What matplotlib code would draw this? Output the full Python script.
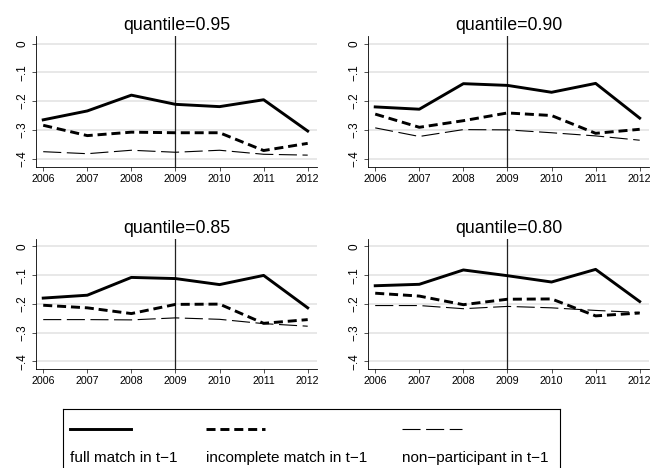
import matplotlib
matplotlib.use("Agg")
import matplotlib.pyplot as plt

plt.rcParams['font.family'] = ['Liberation Sans', 'DejaVu Sans']
plt.rcParams['lines.scale_dashes'] = False

years = [2006, 2007, 2008, 2009, 2010, 2011, 2012]
quantiles = ["0.95", "0.90", "0.85", "0.80"]

full_95 = [-0.265, -0.234, -0.179, -0.211, -0.219, -0.195, -0.304]
incomplete_95 = [-0.284, -0.320, -0.308, -0.310, -0.310, -0.372, -0.347]
nonpart_95 = [-0.376, -0.383, -0.371, -0.378, -0.371, -0.385, -0.388]

full_90 = [-0.220, -0.228, -0.139, -0.145, -0.169, -0.138, -0.259]
incomplete_90 = [-0.245, -0.291, -0.268, -0.241, -0.250, -0.312, -0.298]
nonpart_90 = [-0.293, -0.323, -0.299, -0.300, -0.310, -0.321, -0.336]

full_85 = [-0.180, -0.170, -0.108, -0.112, -0.133, -0.101, -0.214]
incomplete_85 = [-0.205, -0.214, -0.234, -0.202, -0.201, -0.268, -0.255]
nonpart_85 = [-0.255, -0.255, -0.256, -0.249, -0.254, -0.269, -0.278]

full_80 = [-0.137, -0.132, -0.082, -0.102, -0.124, -0.080, -0.192]
incomplete_80 = [-0.163, -0.173, -0.203, -0.184, -0.183, -0.242, -0.232]
nonpart_80 = [-0.206, -0.206, -0.217, -0.209, -0.214, -0.223, -0.230]

yticks = [0, -0.1, -0.2, -0.3, -0.4]
ytick_labels = ["0", "\u2212.1", "\u2212.2", "\u2212.3", "\u2212.4"]
legend_labels = ["full match in t\u22121", "incomplete match in t\u22121",
                 "non\u2212participant in t\u22121"]

panels = [
    (full_95, incomplete_95, nonpart_95),
    (full_90, incomplete_90, nonpart_90),
    (full_85, incomplete_85, nonpart_85),
    (full_80, incomplete_80, nonpart_80),
]

# line styles for the three groups
styles = [
    dict(lw=2.1, ls='-'),
    dict(lw=2.1, ls=(0, (6.5, 3.5))),
    dict(lw=0.8, ls=(0, (13, 4))),
]

fig = plt.figure(figsize=(6.52, 4.68), dpi=100)

lefts = [0.0548, 0.564, 0.0548, 0.564]
bottoms = [0.644, 0.644, 0.211, 0.211]
w, h = 0.432, 0.279

for i, (q, series) in enumerate(zip(quantiles, panels)):
    ax = fig.add_axes([lefts[i], bottoms[i], w, h])
    for y in yticks:
        ax.axhline(y, color='#e4e4e4', lw=1.2, zorder=0)
    ax.axvline(2009, color='#222222', lw=0.9, zorder=1)
    for vals, st in zip(series, styles):
        ax.plot(years, vals, color='black', lw=st['lw'], linestyle=st['ls'],
                zorder=3)
    ax.set_xlim(2005.83, 2012.22)
    ax.set_ylim(-0.428, 0.027)
    ax.set_xticks(years)
    ax.set_xticklabels([str(y) for y in years], fontsize=7.7)
    ax.set_yticks(yticks)
    ax.set_yticklabels(ytick_labels, fontsize=8.5, rotation=90, va='center')
    ax.tick_params(length=3, width=0.6, pad=2, color='#333333')
    ax.spines['top'].set_visible(False)
    ax.spines['right'].set_visible(False)
    ax.spines['left'].set_linewidth(0.6)
    ax.spines['bottom'].set_linewidth(0.6)
    ax.set_title("quantile=" + q, fontsize=12.8, pad=4)

# legend box: samples above labels
lax = fig.add_axes([63.3 / 652, -0.02, (560 - 63.3) / 652, (468 - 409) / 468 + 0.02])
lax.set_xlim(0, 1)
lax.set_ylim(0, 1)
lax.set_xticks([])
lax.set_yticks([])
for sp in lax.spines.values():
    sp.set_linewidth(0.8)
x0s = [0.0135, 0.287, 0.681]
x1s = [0.136, 0.406, 0.803]
for lab, st, xa, xb in zip(legend_labels, styles, x0s, x1s):
    lax.plot([xa, xb], [0.71, 0.71], color='black', lw=st['lw'], linestyle=st['ls'])
    lax.text(xa, 0.28, lab, fontsize=11, va='center', ha='left')

fig.savefig("out.png", dpi=100)
